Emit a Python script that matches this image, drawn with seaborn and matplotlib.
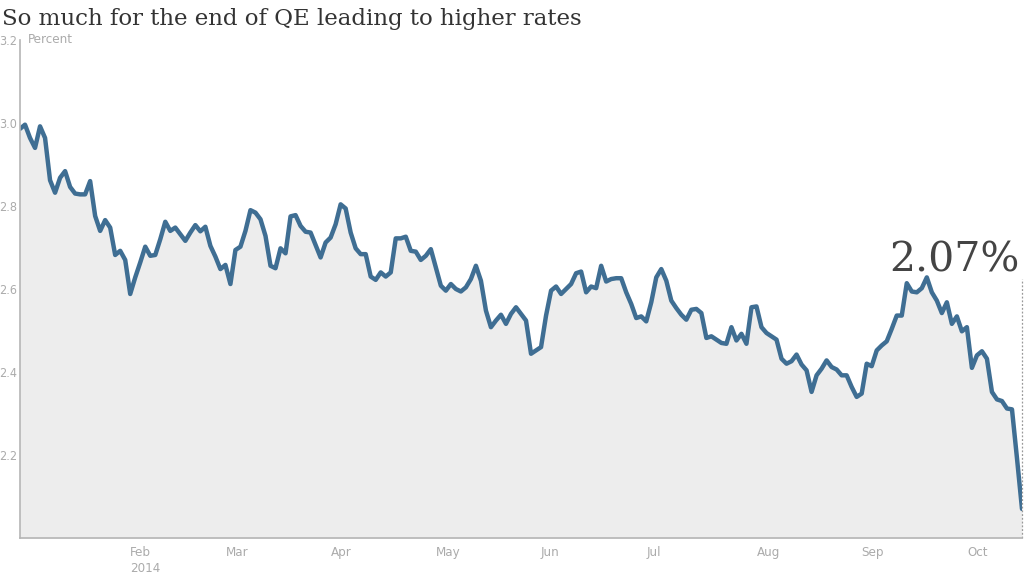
import numpy as np
import pandas as pd
import matplotlib
matplotlib.use("Agg")
import matplotlib.pyplot as plt
from matplotlib.ticker import FixedLocator
import seaborn as sns

# Text
title = "So much for the end of QE leading to higher rates"
unit_label = "Percent"
last_label = "2.07%"

# 10-year Treasury yield, daily close in percent
start_date = "2013-12-31"
market_holidays = ["2014-01-01", "2014-01-20", "2014-02-17", "2014-04-18",
                   "2014-05-26", "2014-07-04", "2014-09-01", "2014-10-13"]

yields_part1 = [2.986, 2.996, 2.964, 2.940, 2.992, 2.964, 2.862, 2.832, 2.868, 2.884,
                2.846, 2.830, 2.828, 2.828, 2.860, 2.776, 2.740, 2.766, 2.748, 2.682,
                2.692, 2.670, 2.588, 2.628, 2.664, 2.702, 2.680, 2.682, 2.720, 2.762,
                2.740, 2.748, 2.732, 2.716, 2.736, 2.754, 2.739, 2.750, 2.704]
yields_part2 = [2.678, 2.648, 2.658, 2.612, 2.694, 2.702, 2.740, 2.790, 2.784, 2.768,
                2.728, 2.656, 2.650, 2.698, 2.686, 2.775, 2.778, 2.752, 2.738, 2.736,
                2.706, 2.676, 2.712, 2.724, 2.756, 2.804, 2.794, 2.736, 2.698, 2.684,
                2.684, 2.630, 2.622, 2.640, 2.630, 2.640, 2.722, 2.722, 2.726, 2.692,
                2.690]
yields_part3 = [2.670, 2.680, 2.696, 2.652, 2.608, 2.596, 2.612, 2.600, 2.594, 2.604,
                2.624, 2.656, 2.620, 2.548, 2.508, 2.524, 2.538, 2.516, 2.540, 2.556,
                2.540, 2.524, 2.444, 2.452, 2.460, 2.536, 2.596, 2.606, 2.588, 2.600,
                2.612, 2.638, 2.642, 2.592, 2.606, 2.602, 2.656, 2.618, 2.624, 2.626]
yields_part4 = [2.626, 2.592, 2.564, 2.530, 2.534, 2.522, 2.568, 2.628, 2.648, 2.620,
                2.572, 2.554, 2.538, 2.526, 2.550, 2.552, 2.542, 2.482, 2.486, 2.478,
                2.470, 2.468, 2.508, 2.476, 2.492, 2.468, 2.556, 2.558, 2.508, 2.494,
                2.486, 2.478, 2.432, 2.420, 2.426, 2.442, 2.418, 2.404, 2.352]
yields_part5 = [2.392, 2.408, 2.428, 2.412, 2.406, 2.392, 2.392, 2.364, 2.340, 2.348,
                2.420, 2.414, 2.452, 2.464, 2.474, 2.504, 2.536, 2.536, 2.614, 2.594,
                2.592, 2.602, 2.628, 2.592, 2.572, 2.542, 2.568, 2.516, 2.534, 2.498,
                2.508, 2.410, 2.440, 2.450, 2.432, 2.352, 2.334, 2.330, 2.312, 2.310,
                2.192, 2.070]

y_ticks = [2.2, 2.4, 2.6, 2.8, 3.0, 3.2]
month_starts = ["2014-02-01", "2014-03-01", "2014-04-01", "2014-05-01", "2014-06-01",
                "2014-07-01", "2014-08-01", "2014-09-01", "2014-10-01"]
month_labels = ["Feb\n2014", "Mar", "Apr", "May", "Jun", "Jul", "Aug", "Sep", "Oct"]

yields = yields_part1 + yields_part2 + yields_part3 + yields_part4 + yields_part5
dates = pd.bdate_range(start_date, periods=len(yields), freq="C", holidays=market_holidays)
# chart is drawn on a trading-day scale (no weekend gaps)
df = pd.DataFrame({"day": np.arange(len(yields)), "date": dates, "yield": yields})
month_pos = dates.searchsorted(pd.to_datetime(month_starts))

# Style
sns.set_style("white")
plt.rcParams["font.family"] = ["DejaVu Sans"]
plt.rcParams["font.stretch"] = "condensed"
grey = "#ababab"

fig = plt.figure(figsize=(10.24, 5.76), dpi=100)
ax = fig.add_axes([20 / 1024, 38 / 576, 1002 / 1024, 498 / 576])

ax.fill_between(df["day"], df["yield"], 2.0, color="#ededed", lw=0)
sns.lineplot(data=df, x="day", y="yield", color="#3f6e93", lw=3.2,
             solid_joinstyle="round", ax=ax)

ax.set_xlim(df["day"].iloc[0], df["day"].iloc[-1])
ax.set_ylim(2.0, 3.2)
ax.set_xlabel("")
ax.set_ylabel("")

# y axis: labels only, with a small cross tick at the top
ax.set_yticks(y_ticks)
ax.set_yticklabels([f"{v:.1f}" for v in y_ticks])
ax.tick_params(axis="y", length=0, pad=2, labelsize=9, labelcolor=grey)
ax.yaxis.remove_overlapping_locs = False
ax.yaxis.set_minor_locator(FixedLocator([y_ticks[-1]]))
ax.tick_params(axis="y", which="minor", direction="inout", length=7, width=1, color=grey)

# x axis: month labels left aligned on the first trading day of the month
ax.set_xticks(month_pos)
ax.set_xticklabels(month_labels, ha="left", linespacing=1.3)
ax.tick_params(axis="x", length=0, pad=6, labelsize=9.5, labelcolor=grey)

for side in ["top", "right"]:
    ax.spines[side].set_visible(False)
for side in ["left", "bottom"]:
    ax.spines[side].set_color("#b5b5b5")
    ax.spines[side].set_linewidth(1.2)

ax.annotate(unit_label, xy=(0, y_ticks[-1]), xycoords=("axes fraction", "data"),
            xytext=(6, 0), textcoords="offset points", va="center", ha="left",
            color=grey, fontsize=9.5)

# latest value call-out
ax.axvline(df["day"].iloc[-1], ymin=0, ymax=0.52, color="#999999", lw=0.9,
           ls=(0, (1.5, 1.5)), clip_on=False)
ax.text(0.998, 0.535, last_label, transform=ax.transAxes, ha="right", va="baseline",
        family="DejaVu Serif", fontstretch="normal", fontsize=29.5, color="#444444")

fig.text(2 / 1024, 1 - 25 / 576, title, ha="left", va="baseline",
         family="DejaVu Serif", fontstretch="normal", fontsize=16.5, color="#333333")

fig.savefig("out.png", dpi=100)
